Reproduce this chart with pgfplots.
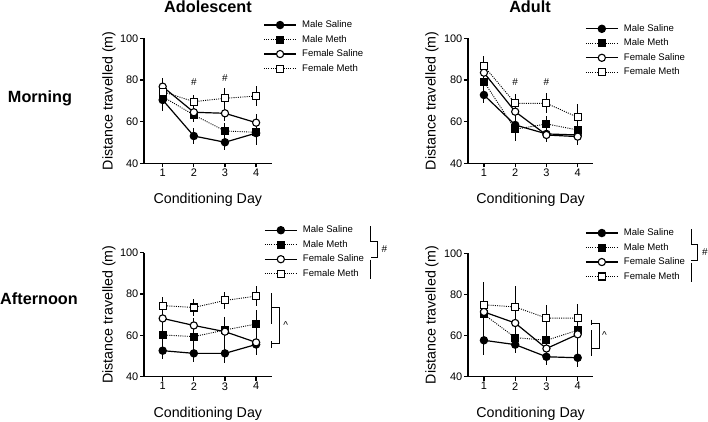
\documentclass[border=0pt]{standalone}
\usepackage{fontspec}
\setmainfont{Liberation Sans}
\usepackage{pgfplots}
\pgfplotsset{compat=1.18}
\pgfplotsset{
 panel/.style={
  scale only axis, enlargelimits=false,
  axis x line*=bottom, axis y line*=left,
  axis line style={line width=1.3bp, black},
  every tick/.style={line width=1.3bp, black},
  major tick length=4bp, tick align=outside,
  xtick={1,2,3,4}, ytick={40,60,80,100},
  ymin=40, ymax=100, xmax=4.5,
  /pgf/number format/assume math mode=true,
  ticklabel style={font=\fontsize{11}{13}\selectfont},
  xticklabel style={inner sep=1.5bp},
  yticklabel style={inner sep=1.5bp},
  xlabel={Conditioning Day},
  ylabel={Distance travelled (m)},
  label style={font=\fontsize{14.3}{16}\selectfont},
  clip=false,
  legend image code/.code={\draw[mark repeat=2,mark phase=2] plot coordinates {(0bp,0bp) (16bp,0bp) (32bp,0bp)};},
  legend cell align=left,
  legend style={draw=none, fill=none, inner sep=0pt, font=\fontsize{9.6}{11}\selectfont, anchor=west, row sep=2.5bp,
    nodes={inner sep=1.5bp, text height=7bp, text depth=2bp, font=\fontsize{9.6}{11}\selectfont},
    /tikz/every odd column/.style={column sep=4bp}},
  error bars/y dir=both, error bars/y explicit, error bars/error mark=none,
  error bars/error bar style={line width=1bp, solid, black},
 },
 ms/.style={black, line width=1.2bp, solid, mark=*, mark size=3.6bp, mark options={solid, fill=black}},
 mm/.style={black, line width=0.9bp, dash pattern=on 1bp off 1.2bp, mark=square*, mark size=3.5bp, mark options={solid, fill=black}},
 fs/.style={black, line width=1.2bp, solid, mark=*, mark size=3.6bp, mark options={solid, fill=white, line width=1.1bp}},
 fm/.style={black, line width=0.9bp, dash pattern=on 1bp off 1.2bp, mark=square*, mark size=3.5bp, mark options={solid, fill=white, line width=1.1bp}},
}
\begin{document}
\begin{tikzpicture}
\useasboundingbox (0,0) rectangle (708bp,-422bp);

% ---------- Adolescent Morning ----------
\begin{axis}[panel, at={(144bp,-163.3bp)}, anchor=south west, width=127.7bp, height=125bp, xmin=0.4,
  xlabel style={at={(axis description cs:0.5,-0.294)}, anchor=center},
  ylabel style={at={(axis description cs:-0.274,0.5)}, anchor=center},
  legend style={at={(axis description cs:0.934,0.932)}}]
\addplot+[ms] coordinates {(1,70.4) +- (0,5.5) (2,53.1) +- (0,4) (3,50.1) +- (0,3.7) (4,54.5) +- (0,5.5)};
\addplot+[mm] coordinates {(1,72) +- (0,4) (2,63.2) +- (0,3.5) (3,55.5) +- (0,4) (4,54.9) +- (0,5.5)};
\addplot+[fs] coordinates {(1,76.8) +- (0,4) (2,64.5) +- (0,3) (3,64) +- (0,3.5) (4,59.5) +- (0,4)};
\addplot+[fm] coordinates {(1,74.4) +- (0,4) (2,69.6) +- (0,3.2) (3,71.2) +- (0,4.8) (4,72.3) +- (0,4.8)};
\legend{Male Saline, Male Meth, Female Saline, Female Meth}
\node[font=\fontsize{10}{12}\selectfont] at (axis cs:2,78.9) {\#};
\node[font=\fontsize{10}{12}\selectfont] at (axis cs:3,80.8) {\#};
\end{axis}

% ---------- Adult Morning ----------
\begin{axis}[panel, at={(468bp,-163.3bp)}, anchor=south west, width=125.3bp, height=125bp, xmin=0.49,
  xlabel style={at={(axis description cs:0.5,-0.294)}, anchor=center},
  ylabel style={at={(axis description cs:-0.287,0.5)}, anchor=center},
  legend style={at={(axis description cs:0.934,0.902)}}]
\addplot+[ms] coordinates {(1,72.8) +- (0,4) (2,58.4) +- (0,4) (3,54.1) +- (0,3.5) (4,53.6) +- (0,3)};
\addplot+[mm] coordinates {(1,79.2) +- (0,5) (2,56.3) +- (0,5.4) (3,58.9) +- (0,4) (4,56) +- (0,4)};
\addplot+[fs] coordinates {(1,83.5) +- (0,4) (2,64.8) +- (0,4) (3,53.6) +- (0,3.6) (4,52.8) +- (0,4)};
\addplot+[fm] coordinates {(1,86.7) +- (0,4.8) (2,68.8) +- (0,4.3) (3,68.8) +- (0,4.8) (4,62.1) +- (0,6.2)};
\legend{Male Saline, Male Meth, Female Saline, Female Meth}
\node[font=\fontsize{10}{12}\selectfont] at (axis cs:2,79.2) {\#};
\node[font=\fontsize{10}{12}\selectfont] at (axis cs:3,79.2) {\#};
\end{axis}

% ---------- Adolescent Afternoon ----------
\begin{axis}[panel, at={(144bp,-376.7bp)}, anchor=south west, width=127.7bp, height=124bp, xmin=0.4,
  xlabel style={at={(axis description cs:0.5,-0.296)}, anchor=center},
  ylabel style={at={(axis description cs:-0.274,0.5)}, anchor=center},
  legend style={at={(axis description cs:0.94,1.006)}}]
\addplot+[ms] coordinates {(1,52.6) +- (0,4) (2,51.3) +- (0,4) (3,51.3) +- (0,4.5) (4,55.6) +- (0,5)};
\addplot+[mm] coordinates {(1,60.2) +- (0,4) (2,59.4) +- (0,4) (3,62.6) +- (0,6.4) (4,65.5) +- (0,7)};
\addplot+[fs] coordinates {(1,68.2) +- (0,4) (2,64.8) +- (0,3.5) (3,61.8) +- (0,7) (4,56.6) +- (0,6)};
\addplot+[fm] coordinates {(1,74.4) +- (0,4.3) (2,73.5) +- (0,3.9) (3,76.9) +- (0,4.2) (4,79) +- (0,4.9)};
\legend{Male Saline, Male Meth, Female Saline, Female Meth}
\draw[line width=0.6bp] (axis cs:4.48,80.3) -- (axis cs:4.48,65.6);
\draw[line width=0.6bp] (axis cs:4.48,57.1) -- (axis cs:4.48,54);
\draw[line width=0.6bp] (axis cs:4.48,73.4) -- (axis cs:4.73,73.4) -- (axis cs:4.73,56.4) -- (axis cs:4.48,56.4);
\node[font=\fontsize{10}{12}\selectfont] at (axis cs:4.95,65.1) {\^{}};
\end{axis}

% ---------- Adult Afternoon ----------
\begin{axis}[panel, at={(468bp,-376.7bp)}, anchor=south west, width=125.3bp, height=123.4bp, xmin=0.49,
  xlabel style={at={(axis description cs:0.5,-0.297)}, anchor=center},
  ylabel style={at={(axis description cs:-0.287,0.5)}, anchor=center},
  legend style={at={(axis description cs:0.934,0.988)}}]
\addplot+[ms] coordinates {(1,57.7) +- (0,7) (2,55.6) +- (0,4) (3,49.7) +- (0,4) (4,49.2) +- (0,4.7)};
\addplot+[mm] coordinates {(1,70.3) +- (0,9) (2,59) +- (0,6) (3,57.7) +- (0,8) (4,62.6) +- (0,7)};
\addplot+[fs] coordinates {(1,71.5) +- (0,8) (2,66.1) +- (0,7) (3,53.7) +- (0,8) (4,60.6) +- (0,9)};
\addplot+[fm] coordinates {(1,75) +- (0,11) (2,73.9) +- (0,10) (3,68.5) +- (0,6.5) (4,68.5) +- (0,7)};
\legend{Male Saline, Male Meth, Female Saline, Female Meth}
\draw[line width=0.6bp] (axis cs:4.45,67.7) -- (axis cs:4.45,65);
\draw[line width=0.6bp] (axis cs:4.45,62.7) -- (axis cs:4.45,49.9);
\draw[line width=0.6bp] (axis cs:4.45,65.9) -- (axis cs:4.7,65.9) -- (axis cs:4.7,53.6) -- (axis cs:4.45,53.6);
\node[font=\fontsize{10}{12}\selectfont] at (axis cs:4.86,60.3) {\^{}};
\end{axis}

% ---------- titles ----------
\node[font=\bfseries\fontsize{16.3}{18}\selectfont] at (208bp,-7bp) {Adolescent};
\node[font=\bfseries\fontsize{16.3}{18}\selectfont] at (530bp,-7bp) {Adult};
\node[font=\bfseries\fontsize{16.3}{18}\selectfont] at (40bp,-98bp) {Morning};
\node[font=\bfseries\fontsize{16.3}{18}\selectfont] at (39bp,-299bp) {Afternoon};

% ---------- legend brackets ----------
\draw[line width=0.6bp] (370.5bp,-226.3bp) -- (370.5bp,-241bp) -- (377bp,-241bp) -- (377bp,-257.7bp) -- (370.5bp,-257.7bp);
\draw[line width=0.6bp] (370.5bp,-259.7bp) -- (370.5bp,-278.7bp);
\node[font=\fontsize{10}{12}\selectfont] at (384.5bp,-248.7bp) {\#};
\draw[line width=0.6bp] (691bp,-229.3bp) -- (691bp,-244bp) -- (697.5bp,-244bp) -- (697.5bp,-260.7bp) -- (691bp,-260.7bp);
\draw[line width=0.6bp] (691bp,-262.7bp) -- (691bp,-281.7bp);
\node[font=\fontsize{10}{12}\selectfont] at (705bp,-251.7bp) {\#};
\end{tikzpicture}
\end{document}
